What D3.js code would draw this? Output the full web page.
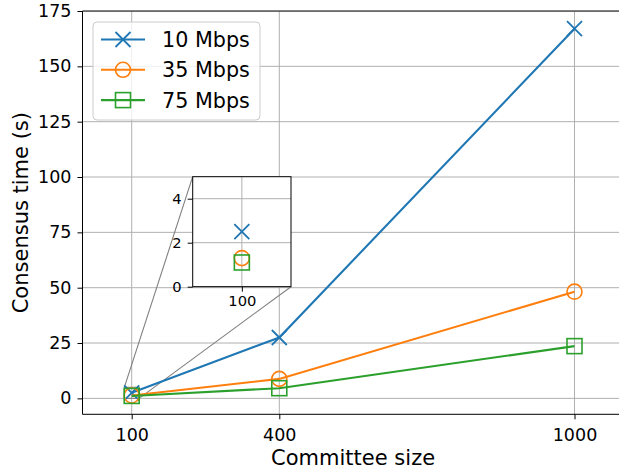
<!DOCTYPE html>
<html>
<head>
<meta charset="utf-8">
<script src="https://cdn.jsdelivr.net/npm/d3@7"></script>
<style>
  body { margin: 0; background: #fff; }
  svg { display: block; font-family: "DejaVu Sans", sans-serif; }
</style>
</head>
<body>
<div id="chart"></div>
<script>
// Datos
const committeeSizes = [100, 400, 1000];
const time10 = [2.5, 27.5, 167];
const time35 = [1.3, 8.8, 48.2];
const time75 = [1.1, 4.6, 23.6];
const seriesNames = ["10 Mbps", "35 Mbps", "75 Mbps"];
const yTickValues = [0, 25, 50, 75, 100, 125, 150, 175];
const insetXTicks = [100];
const insetYTicks = [0, 2, 4];

// Estilos (fuera de los datos)
const COLORS = ["#1f77b4", "#ff7f0e", "#2ca02c"];
const MARKERS = ["x", "circle", "square"];
const GRID = "#b0b0b0";

const WIDTH = 619;
const HEIGHT = 470;

const SVG = d3.select("#chart").append("svg")
    .attr("width", WIDTH).attr("height", HEIGHT);

const PLOT = { left: 82.5, right: 623.7, top: 11, bottom: 414.3 };

const x = d3.scaleLinear().domain([0, 1100]).range([PLOT.left, PLOT.right]);
const y = d3.scaleLinear().domain([-7.2, 175]).range([PLOT.bottom, PLOT.top]);

const series = [time10, time35, time75].map((vals, i) => ({
    name: seriesNames[i],
    color: COLORS[i],
    marker: MARKERS[i],
    points: vals.map((v, j) => ({ size: committeeSizes[j], t: v }))
}));

function drawMarker(g, type, cx, cy, color, r = 7.5) {
    if (type === "x") {
        g.append("path")
            .attr("d", `M${cx - r},${cy - r}L${cx + r},${cy + r}M${cx - r},${cy + r}L${cx + r},${cy - r}`)
            .attr("stroke", color).attr("stroke-width", 1.8).attr("fill", "none");
    } else if (type === "circle") {
        g.append("circle").attr("cx", cx).attr("cy", cy).attr("r", r)
            .attr("stroke", color).attr("stroke-width", 1.6).attr("fill", "none");
    } else {
        g.append("rect").attr("x", cx - r).attr("y", cy - r)
            .attr("width", 2 * r).attr("height", 2 * r)
            .attr("stroke", color).attr("stroke-width", 1.6).attr("fill", "none");
    }
}

// Clip del area principal
SVG.append("clipPath").attr("id", "clip-main")
    .append("rect").attr("x", PLOT.left).attr("y", PLOT.top)
    .attr("width", PLOT.right - PLOT.left).attr("height", PLOT.bottom - PLOT.top);

// Grilla
const grid = SVG.append("g").attr("clip-path", "url(#clip-main)");
grid.selectAll("line.gx").data(committeeSizes).join("line")
    .attr("x1", d => x(d)).attr("x2", d => x(d))
    .attr("y1", PLOT.top).attr("y2", PLOT.bottom)
    .attr("stroke", GRID).attr("stroke-width", 1);
grid.selectAll("line.gy").data(yTickValues).join("line")
    .attr("x1", PLOT.left).attr("x2", PLOT.right)
    .attr("y1", d => y(d)).attr("y2", d => y(d))
    .attr("stroke", GRID).attr("stroke-width", 1);

// Rectangulo del zoom y conectores (mark_inset)
const ix = d3.scaleLinear().domain([85, 115]).range([192.7, 291]);
const iy = d3.scaleLinear().domain([0, 5]).range([286.7, 176.7]);

const conn = SVG.append("g").attr("stroke", "#808080").attr("stroke-width", 1.1).attr("fill", "none");
conn.append("rect")
    .attr("x", x(85)).attr("y", y(5))
    .attr("width", x(115) - x(85)).attr("height", y(0) - y(5));
conn.append("line")
    .attr("x1", ix.range()[0]).attr("y1", iy.range()[1])
    .attr("x2", x(85)).attr("y2", y(5));
conn.append("line")
    .attr("x1", ix.range()[1]).attr("y1", iy.range()[0])
    .attr("x2", x(115)).attr("y2", y(0));

// Lineas y marcadores
const lineGen = d3.line().x(d => x(d.size)).y(d => y(d.t));
const main = SVG.append("g").attr("clip-path", "url(#clip-main)");
series.forEach(s => {
    main.append("path").datum(s.points)
        .attr("d", lineGen)
        .attr("fill", "none").attr("stroke", s.color).attr("stroke-width", 2.1);
    s.points.forEach(p => drawMarker(main, s.marker, x(p.size), y(p.t), s.color));
});

// Ejes
const fmt = d3.format("d");
const xAxis = SVG.append("g")
    .attr("transform", `translate(0,${PLOT.bottom})`)
    .call(d3.axisBottom(x).tickValues(committeeSizes).tickFormat(fmt)
        .tickSize(5).tickPadding(9).tickSizeOuter(0));
const yAxis = SVG.append("g")
    .attr("transform", `translate(${PLOT.left},0)`)
    .call(d3.axisLeft(y).tickValues(yTickValues).tickFormat(fmt)
        .tickSize(5).tickPadding(6).tickSizeOuter(0));
[xAxis, yAxis].forEach(a => {
    a.select(".domain").remove();
    a.selectAll("text").attr("font-size", 17.5).attr("font-family", "DejaVu Sans").attr("fill", "#000");
    a.selectAll("line").attr("stroke", "#000").attr("stroke-width", 1);
});

// Bordes (spines)
SVG.append("path")
    .attr("d", `M${PLOT.right},${PLOT.top}H${PLOT.left}V${PLOT.bottom}H${PLOT.right}`)
    .attr("fill", "none").attr("stroke", "#000").attr("stroke-width", 1);

// Titulos de ejes
SVG.append("text")
    .attr("x", (PLOT.left + PLOT.right) / 2).attr("y", 465)
    .attr("text-anchor", "middle").attr("font-size", 21)
    .text("Committee size");
SVG.append("text")
    .attr("transform", `translate(27.5,${(PLOT.top + PLOT.bottom) / 2}) rotate(-90)`)
    .attr("text-anchor", "middle").attr("font-size", 21)
    .text("Consensus time (s)");

// Leyenda
const legend = SVG.append("g");
legend.append("rect")
    .attr("x", 93).attr("y", 22).attr("width", 167).attr("height", 98)
    .attr("rx", 4).attr("fill", "#fff").attr("fill-opacity", 0.8)
    .attr("stroke", "#cccccc").attr("stroke-width", 1);
series.forEach((s, i) => {
    const cy = 39.5 + i * 30.3;
    legend.append("line").attr("x1", 101).attr("x2", 145).attr("y1", cy).attr("y2", cy)
        .attr("stroke", s.color).attr("stroke-width", 2.1);
    drawMarker(legend, s.marker, 123, cy, s.color);
    legend.append("text").attr("x", 162).attr("y", cy).attr("dy", "0.36em")
        .attr("font-size", 20.7).text(s.name);
});

// Inset (zoom en tamano 100)
const inset = SVG.append("g");
const [ix0, ix1] = ix.range();
const [iy0, iy1] = iy.range();
inset.append("rect").attr("x", ix0).attr("y", iy1)
    .attr("width", ix1 - ix0).attr("height", iy0 - iy1).attr("fill", "#fff");
inset.selectAll("line.igx").data(insetXTicks).join("line")
    .attr("x1", d => ix(d)).attr("x2", d => ix(d)).attr("y1", iy1).attr("y2", iy0)
    .attr("stroke", GRID).attr("stroke-width", 1);
inset.selectAll("line.igy").data(insetYTicks).join("line")
    .attr("x1", ix0).attr("x2", ix1).attr("y1", d => iy(d)).attr("y2", d => iy(d))
    .attr("stroke", GRID).attr("stroke-width", 1);
series.forEach(s => {
    s.points.filter(p => p.size >= 85 && p.size <= 115)
        .forEach(p => drawMarker(inset, s.marker, ix(p.size), iy(p.t), s.color));
});
const ixAxis = inset.append("g").attr("transform", `translate(0,${iy0})`)
    .call(d3.axisBottom(ix).tickValues(insetXTicks).tickFormat(fmt)
        .tickSize(5).tickPadding(4).tickSizeOuter(0));
const iyAxis = inset.append("g").attr("transform", `translate(${ix0},0)`)
    .call(d3.axisLeft(iy).tickValues(insetYTicks).tickFormat(fmt)
        .tickSize(5).tickPadding(6).tickSizeOuter(0));
[ixAxis, iyAxis].forEach(a => {
    a.select(".domain").remove();
    a.selectAll("text").attr("font-size", 14.7).attr("font-family", "DejaVu Sans").attr("fill", "#000");
    a.selectAll("line").attr("stroke", "#000").attr("stroke-width", 1);
});
inset.append("rect").attr("x", ix0).attr("y", iy1)
    .attr("width", ix1 - ix0).attr("height", iy0 - iy1)
    .attr("fill", "none").attr("stroke", "#000").attr("stroke-width", 1);
</script>
</body>
</html>
